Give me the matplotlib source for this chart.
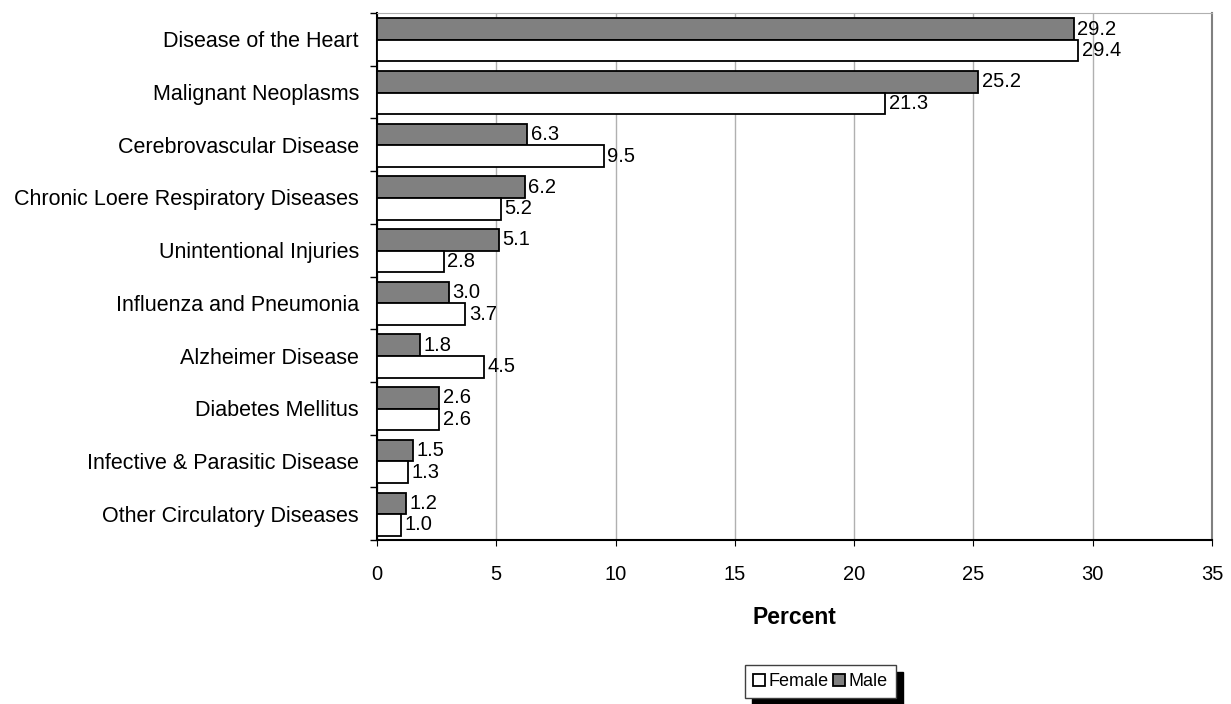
import matplotlib.pyplot as plt
import numpy as np

plt.rcParams['font.family'] = ['Liberation Sans', 'DejaVu Sans']

causes = ["Disease of the Heart", "Malignant Neoplasms", "Cerebrovascular Disease",
          "Chronic Loere Respiratory Diseases", "Unintentional Injuries",
          "Influenza and Pneumonia", "Alzheimer Disease", "Diabetes Mellitus",
          "Infective & Parasitic Disease", "Other Circulatory Diseases"]
male = [29.2, 25.2, 6.3, 6.2, 5.1, 3.0, 1.8, 2.6, 1.5, 1.2]
female = [29.4, 21.3, 9.5, 5.2, 2.8, 3.7, 4.5, 2.6, 1.3, 1.0]


def main():
    fig = plt.figure(figsize=(12.31, 7.04), dpi=100)
    ax = fig.add_axes([377 / 1231, 1 - 540 / 704, (1212 - 377) / 1231, (540 - 13) / 704])

    y = np.arange(len(causes))
    h = 0.41
    bm = ax.barh(y - 0.195, male, height=h, color='#808080', edgecolor='black', linewidth=1.3,
                 label='Male', zorder=3)
    bf = ax.barh(y + 0.215, female, height=h, color='white', edgecolor='black', linewidth=1.3,
                 label='Female', zorder=3)

    # value labels just right of each bar
    for bars, vals in ((bm, male), (bf, female)):
        for rect, v in zip(bars, vals):
            ax.text(v + 0.15, rect.get_y() + rect.get_height() / 2, f"{v:.1f}",
                    va='center', ha='left', fontsize=14.5)

    ax.set_xlim(0, 35)
    ax.set_ylim(len(causes) - 0.5, -0.5)
    ax.set_xticks(np.arange(0, 36, 5))
    ax.set_yticks(y)
    ax.set_yticklabels(causes, fontsize=15.5)
    ax.set_yticks(np.arange(-0.5, len(causes), 1), minor=True)
    ax.tick_params(axis='y', which='major', length=0, pad=13)
    ax.tick_params(axis='y', which='minor', length=5, direction='out', width=1)
    ax.tick_params(axis='x', labelsize=14.5, length=4, direction='out', pad=14)
    ax.xaxis.grid(True, color='#b0b0b0', linewidth=1, zorder=0)
    ax.set_axisbelow(True)

    ax.spines['left'].set_color('black')
    ax.spines['left'].set_linewidth(1.5)
    ax.spines['bottom'].set_color('black')
    ax.spines['bottom'].set_linewidth(1.5)
    ax.spines['top'].set_color('#b0b0b0')
    ax.spines['right'].set_color('#808080')
    ax.spines['right'].set_linewidth(1.5)

    ax.set_xlabel("Percent", fontsize=16.5, fontweight='bold', labelpad=15.5)

    leg = fig.legend([bf, bm], ['Female', 'Male'], loc='upper left',
                     bbox_to_anchor=(745 / 1231, 1 - 665 / 704),
                     ncol=2, frameon=True, fancybox=False,
                     shadow={'ox': 5, 'oy': -5, 'color': 'black', 'alpha': 1},
                     fontsize=13, handlelength=0.65, handleheight=0.65, handletextpad=0.2,
                     columnspacing=0.25, borderpad=0.45, borderaxespad=0)
    leg.get_frame().set_edgecolor('#404040')
    leg.get_frame().set_linewidth(1)

    fig.savefig('out.png', dpi=100)


if __name__ == '__main__':
    main()
